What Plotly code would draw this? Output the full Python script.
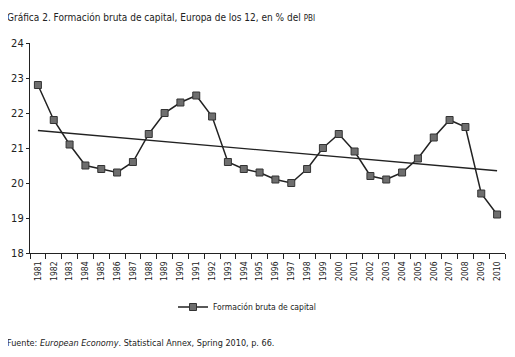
import plotly.graph_objects as go

years = [str(y) for y in range(1981, 2011)]
values = [22.8, 21.8, 21.1, 20.5, 20.4, 20.3, 20.6, 21.4, 22.0, 22.3, 22.5, 21.9,
          20.6, 20.4, 20.3, 20.1, 20.0, 20.4, 21.0, 21.4, 20.9, 20.2, 20.1, 20.3,
          20.7, 21.3, 21.8, 21.6, 19.7, 19.1]
trend_years = ["1981", "2010"]
trend_values = [21.5, 20.35]
y_ticks = [18, 19, 20, 21, 22, 23, 24]

FONT = "DejaVu Sans Condensed, sans-serif"

W, H = 515, 357
OFF = 8  # page body margin offset in the browser
# target plot area in page pixels: x 30..505, y 43..253
PX0, PX1, PY0, PY1 = 30, 505, 43, 253
PW, PH = PX1 - PX0, PY1 - PY0


def px_x(x):
    return (x - PX0) / PW


def px_y(y):
    return (PY1 - y) / PH


fig = go.Figure()
fig.add_trace(go.Scatter(
    x=trend_years, y=trend_values, mode="lines",
    line=dict(color="#222222", width=1.3), showlegend=False, hoverinfo="skip"))
fig.add_trace(go.Scatter(
    x=years, y=values, mode="lines+markers", name="Formación bruta de capital",
    line=dict(color="#222222", width=1.5),
    marker=dict(symbol="square", size=7, color="#6e6e6e",
                line=dict(color="#333333", width=1))))

fig.update_layout(
    width=W, height=H,
    margin=dict(l=PX0 - OFF, r=W - (PX1 - OFF), t=PY0 - OFF, b=H - (PY1 - OFF)),
    paper_bgcolor="white", plot_bgcolor="white",
    font=dict(family=FONT, color="#222222", size=11),
    showlegend=True,
    legend=dict(orientation="h", xref="container", yref="container",
                x=(247 - OFF) / W, y=1 - (307 - OFF) / H, xanchor="center", yanchor="middle",
                font=dict(size=8.5), itemwidth=30),
    xaxis=dict(type="category", categoryorder="array", categoryarray=years,
               range=[-0.5, len(years) - 0.5],
               showline=True, linecolor="#222222", linewidth=1.2,
               ticks="outside", tickson="boundaries", ticklen=5, tickcolor="#222222",
               tickangle=-90, tickfont=dict(size=8.5), ticklabelstandoff=4,
               showgrid=False, zeroline=False, automargin=False),
    yaxis=dict(range=[18, 24], tickvals=y_ticks,
               showline=True, linecolor="#222222", linewidth=1.2,
               ticks="outside", ticklen=3, tickcolor="#222222",
               tickfont=dict(size=11), showgrid=False, zeroline=False,
               automargin=False),
    annotations=[
        dict(text="Gráfica 2. Formación bruta de capital, Europa de los 12, en % del <span style='font-size:8px'>PBI</span>",
             xref="paper", yref="paper", x=px_x(5), y=px_y(17),
             xanchor="left", yanchor="middle", showarrow=False, font=dict(size=10)),
        dict(text="Fuente: <i>European Economy</i>. Statistical Annex, Spring 2010, p. 66.",
             xref="paper", yref="paper", x=px_x(5), y=px_y(343),
             xanchor="left", yanchor="middle", showarrow=False, font=dict(size=9)),
    ],
)

fig.write_html("out.html")
